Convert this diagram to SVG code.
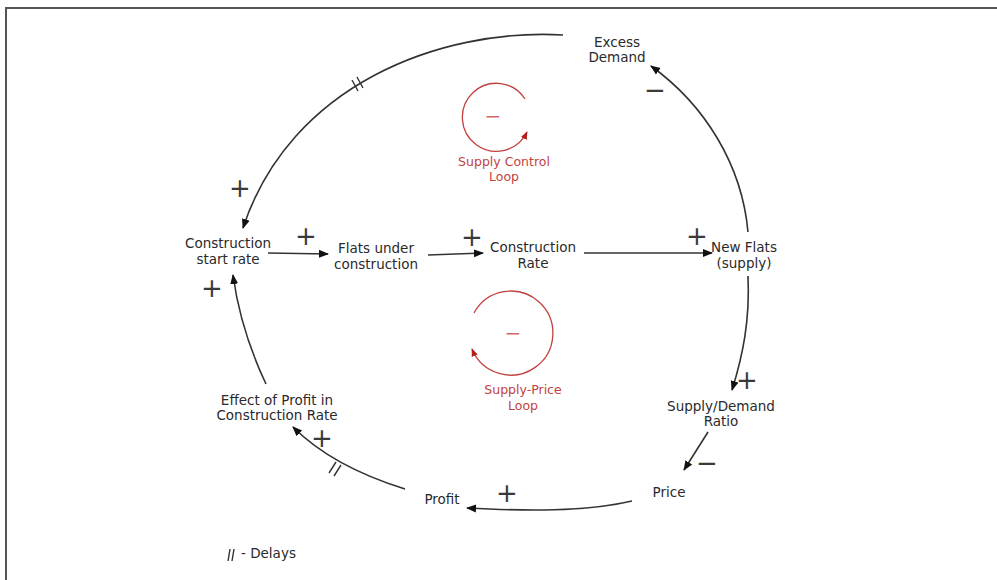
<svg xmlns="http://www.w3.org/2000/svg" width="997" height="580" viewBox="0 0 997 580">
  <defs>
    <style>
      .lbl { font-family: "DejaVu Sans", Verdana, sans-serif; font-size: 13.5px; fill: #2a2a2a; text-anchor: middle; }
      .red { font-family: "DejaVu Sans", Verdana, sans-serif; font-size: 12.5px; fill: #c2413f; text-anchor: middle; }
      .redsign { font-family: "DejaVu Sans", sans-serif; font-size: 20px; fill: #d06a68; text-anchor: middle; }
      .sign { font-family: "DejaVu Sans", sans-serif; font-size: 26px; fill: #3a3a3a; text-anchor: middle; }
      .link { fill: none; stroke: #333; stroke-width: 1.6; marker-end: url(#arr); }
      .loop { fill: none; stroke: #c2413f; stroke-width: 1.3; marker-end: url(#arrRed); }
      .delay { stroke: #333; stroke-width: 1.4; }
    </style>
    <marker id="arr" viewBox="0 0 10 10" refX="9" refY="5" markerWidth="10" markerHeight="10" markerUnits="userSpaceOnUse" orient="auto">
      <path d="M0,1 L10,5 L0,9 Z" fill="#111"/>
    </marker>
    <marker id="arrRed" viewBox="0 0 10 10" refX="9" refY="5" markerWidth="8" markerHeight="8" markerUnits="userSpaceOnUse" orient="auto">
      <path d="M0,1 L10,5 L0,9 Z" fill="#b3201e"/>
    </marker>
  </defs>

  <rect width="997" height="580" fill="#fff"/>
  <!-- frame -->
  <path d="M6,580 V8 H997" fill="none" stroke="#555" stroke-width="2"/>

  <!-- connectors -->
  <g id="connectors">
    <path class="link" d="M563,35 C440,28 290,85 243,228"/>
    <path class="link" d="M748,232 C742,165 705,105 651,66"/>
    <path class="link" d="M748,276 C750,320 743,355 732,390"/>
    <path class="link" d="M708,432 L684,470"/>
    <path class="link" d="M632,501 C585,512 525,511 467,508"/>
    <path class="link" d="M405,489 C360,475 322,456 293,427"/>
    <path class="link" d="M266,384 C250,350 238,312 233,275"/>
    <path class="link" d="M268,253 L328,254"/>
    <path class="link" d="M428,255 L483,253"/>
    <path class="link" d="M584,253 L712,253"/>
    <!-- delay marks -->
    <path class="delay" d="M357,77 L363,88 M352,80 L358,91"/>
    <path class="delay" d="M329,473 L336,462 M334,476 L341,465"/>
    <!-- polarity signs -->
    <text class="sign" x="240" y="197">+</text>
    <text class="sign" x="306" y="245">+</text>
    <text class="sign" x="472" y="246">+</text>
    <text class="sign" x="697" y="245">+</text>
    <text class="sign" x="212" y="297">+</text>
    <text class="sign" x="747" y="389">+</text>
    <text class="sign" x="322" y="447">+</text>
    <text class="sign" x="507" y="502">+</text>
    <text class="sign" x="655" y="99">−</text>
    <text class="sign" x="707" y="472">−</text>
  </g>

  <!-- nodes -->
  <g id="excess-demand">
    <text class="lbl" x="617" y="47">Excess</text>
    <text class="lbl" x="617" y="62">Demand</text>
  </g>
  <g id="construction-start-rate">
    <text class="lbl" x="228" y="248">Construction</text>
    <text class="lbl" x="228" y="264">start rate</text>
  </g>
  <g id="flats-under-construction">
    <text class="lbl" x="376" y="253">Flats under</text>
    <text class="lbl" x="376" y="269">construction</text>
  </g>
  <g id="construction-rate">
    <text class="lbl" x="533" y="252">Construction</text>
    <text class="lbl" x="533" y="268">Rate</text>
  </g>
  <g id="new-flats">
    <text class="lbl" x="744" y="252">New Flats</text>
    <text class="lbl" x="744" y="268">(supply)</text>
  </g>
  <g id="supply-demand-ratio">
    <text class="lbl" x="721" y="411">Supply/Demand</text>
    <text class="lbl" x="721" y="426">Ratio</text>
  </g>
  <g id="price">
    <text class="lbl" x="669" y="497">Price</text>
  </g>
  <g id="profit">
    <text class="lbl" x="442" y="504">Profit</text>
  </g>
  <g id="effect-of-profit">
    <text class="lbl" x="277" y="405">Effect of Profit in</text>
    <text class="lbl" x="277" y="420">Construction Rate</text>
  </g>

  <!-- loop markers -->
  <g id="supply-control-loop">
    <path class="loop" d="M525,99 A34,34 0 1 0 527,132"/>
    <text class="redsign" x="493" y="123">−</text>
    <text class="red" x="504" y="166">Supply Control</text>
    <text class="red" x="504" y="181">Loop</text>
  </g>
  <g id="supply-price-loop">
    <path class="loop" d="M474,313 A42,42 0 1 1 472,349"/>
    <text class="redsign" x="513" y="340">−</text>
    <text class="red" x="523" y="394">Supply-Price</text>
    <text class="red" x="523" y="410">Loop</text>
  </g>

  <!-- legend -->
  <g id="legend">
    <path class="delay" d="M228,561 L230,549 M232,561 L234,549"/>
    <text class="lbl" x="241" y="558" style="text-anchor:start">- Delays</text>
  </g>
</svg>
